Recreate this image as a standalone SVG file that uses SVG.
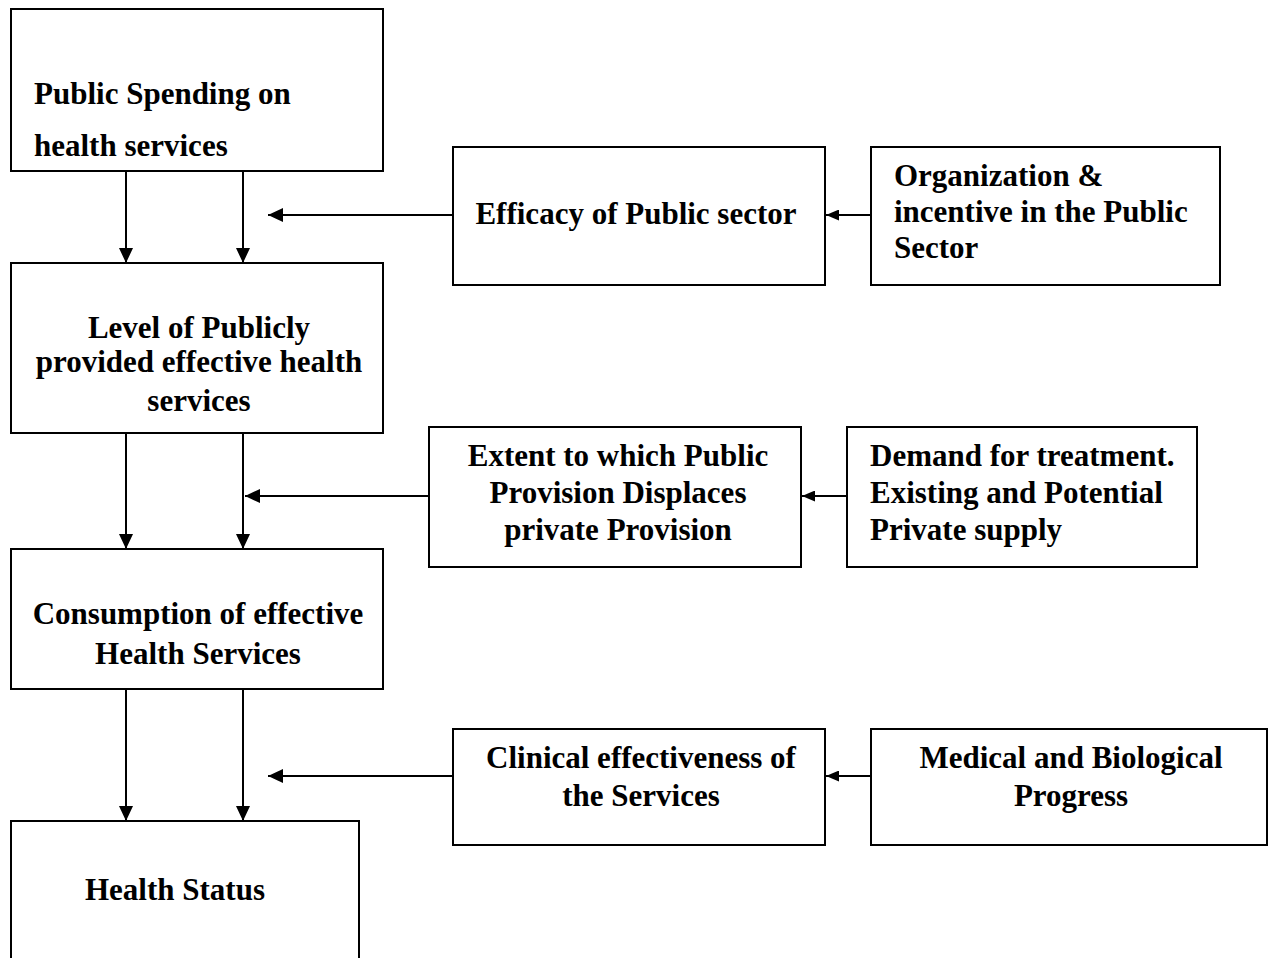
<svg xmlns="http://www.w3.org/2000/svg" width="1273" height="958" viewBox="0 0 1273 958">
<style>
.box{fill:#fff;stroke:#000;stroke-width:2}
.t{font-family:"Liberation Serif","Times New Roman",serif;font-weight:bold;font-size:31px;fill:#000}
.c{text-anchor:middle}
.ln{stroke:#000;stroke-width:2;fill:none}
</style>
<defs>
<marker id="ah" markerWidth="15" markerHeight="14" refX="15" refY="7" orient="auto" markerUnits="userSpaceOnUse">
<path d="M0,0 L15,7 L0,14 Z" fill="#000"/>
</marker>
<marker id="ahs" markerWidth="13" markerHeight="11" refX="13" refY="5.5" orient="auto" markerUnits="userSpaceOnUse">
<path d="M0,0 L13,5.5 L0,11 Z" fill="#000"/>
</marker>
</defs>
<rect width="1273" height="958" fill="#fff"/>
<g id="n-spending"><rect class="box" x="11" y="9" width="372" height="162"/>
<text class="t" x="34" y="104">Public Spending on</text>
<text class="t" x="34" y="156">health services</text></g>
<g id="n-level"><rect class="box" x="11" y="263" width="372" height="170"/>
<text class="t c" x="199" y="338">Level of Publicly</text>
<text class="t c" x="199" y="372">provided effective health</text>
<text class="t c" x="199" y="411">services</text></g>
<g id="n-consumption"><rect class="box" x="11" y="549" width="372" height="140"/>
<text class="t c" x="198" y="624">Consumption of effective</text>
<text class="t c" x="198" y="664">Health Services</text></g>
<g id="n-health"><rect class="box" x="11" y="821" width="348" height="150"/>
<text class="t c" x="175" y="900">Health Status</text></g>
<g id="n-efficacy"><rect class="box" x="453" y="147" width="372" height="138"/>
<text class="t c" x="636" y="224">Efficacy of Public sector</text></g>
<g id="n-organization"><rect class="box" x="871" y="147" width="349" height="138"/>
<text class="t" x="894" y="186">Organization &amp;</text>
<text class="t" x="894" y="222">incentive in the Public</text>
<text class="t" x="894" y="258">Sector</text></g>
<g id="n-extent"><rect class="box" x="429" y="427" width="372" height="140"/>
<text class="t c" x="618" y="466">Extent to which Public</text>
<text class="t c" x="618" y="503">Provision Displaces</text>
<text class="t c" x="618" y="540">private Provision</text></g>
<g id="n-demand"><rect class="box" x="847" y="427" width="350" height="140"/>
<text class="t" x="870" y="466">Demand for treatment.</text>
<text class="t" x="870" y="503">Existing and Potential</text>
<text class="t" x="870" y="540">Private supply</text></g>
<g id="n-clinical"><rect class="box" x="453" y="729" width="372" height="116"/>
<text class="t c" x="641" y="768">Clinical effectiveness of</text>
<text class="t c" x="641" y="806">the Services</text></g>
<g id="n-medical"><rect class="box" x="871" y="729" width="396" height="116"/>
<text class="t c" x="1071" y="768">Medical and Biological</text>
<text class="t c" x="1071" y="806">Progress</text></g>
<g id="connectors">
<line class="ln" x1="126" y1="171" x2="126" y2="263" marker-end="url(#ah)"/>
<line class="ln" x1="243" y1="171" x2="243" y2="263" marker-end="url(#ah)"/>
<line class="ln" x1="126" y1="433" x2="126" y2="549" marker-end="url(#ah)"/>
<line class="ln" x1="243" y1="433" x2="243" y2="549" marker-end="url(#ah)"/>
<line class="ln" x1="126" y1="689" x2="126" y2="821" marker-end="url(#ah)"/>
<line class="ln" x1="243" y1="689" x2="243" y2="821" marker-end="url(#ah)"/>
<line class="ln" x1="453" y1="215" x2="268" y2="215" marker-end="url(#ah)"/>
<line class="ln" x1="429" y1="496" x2="245" y2="496" marker-end="url(#ah)"/>
<line class="ln" x1="453" y1="776" x2="268" y2="776" marker-end="url(#ah)"/>
<line class="ln" x1="871" y1="215" x2="826" y2="215" marker-end="url(#ahs)"/>
<line class="ln" x1="847" y1="496" x2="802" y2="496" marker-end="url(#ahs)"/>
<line class="ln" x1="871" y1="776" x2="826" y2="776" marker-end="url(#ahs)"/>
</g>
</svg>
